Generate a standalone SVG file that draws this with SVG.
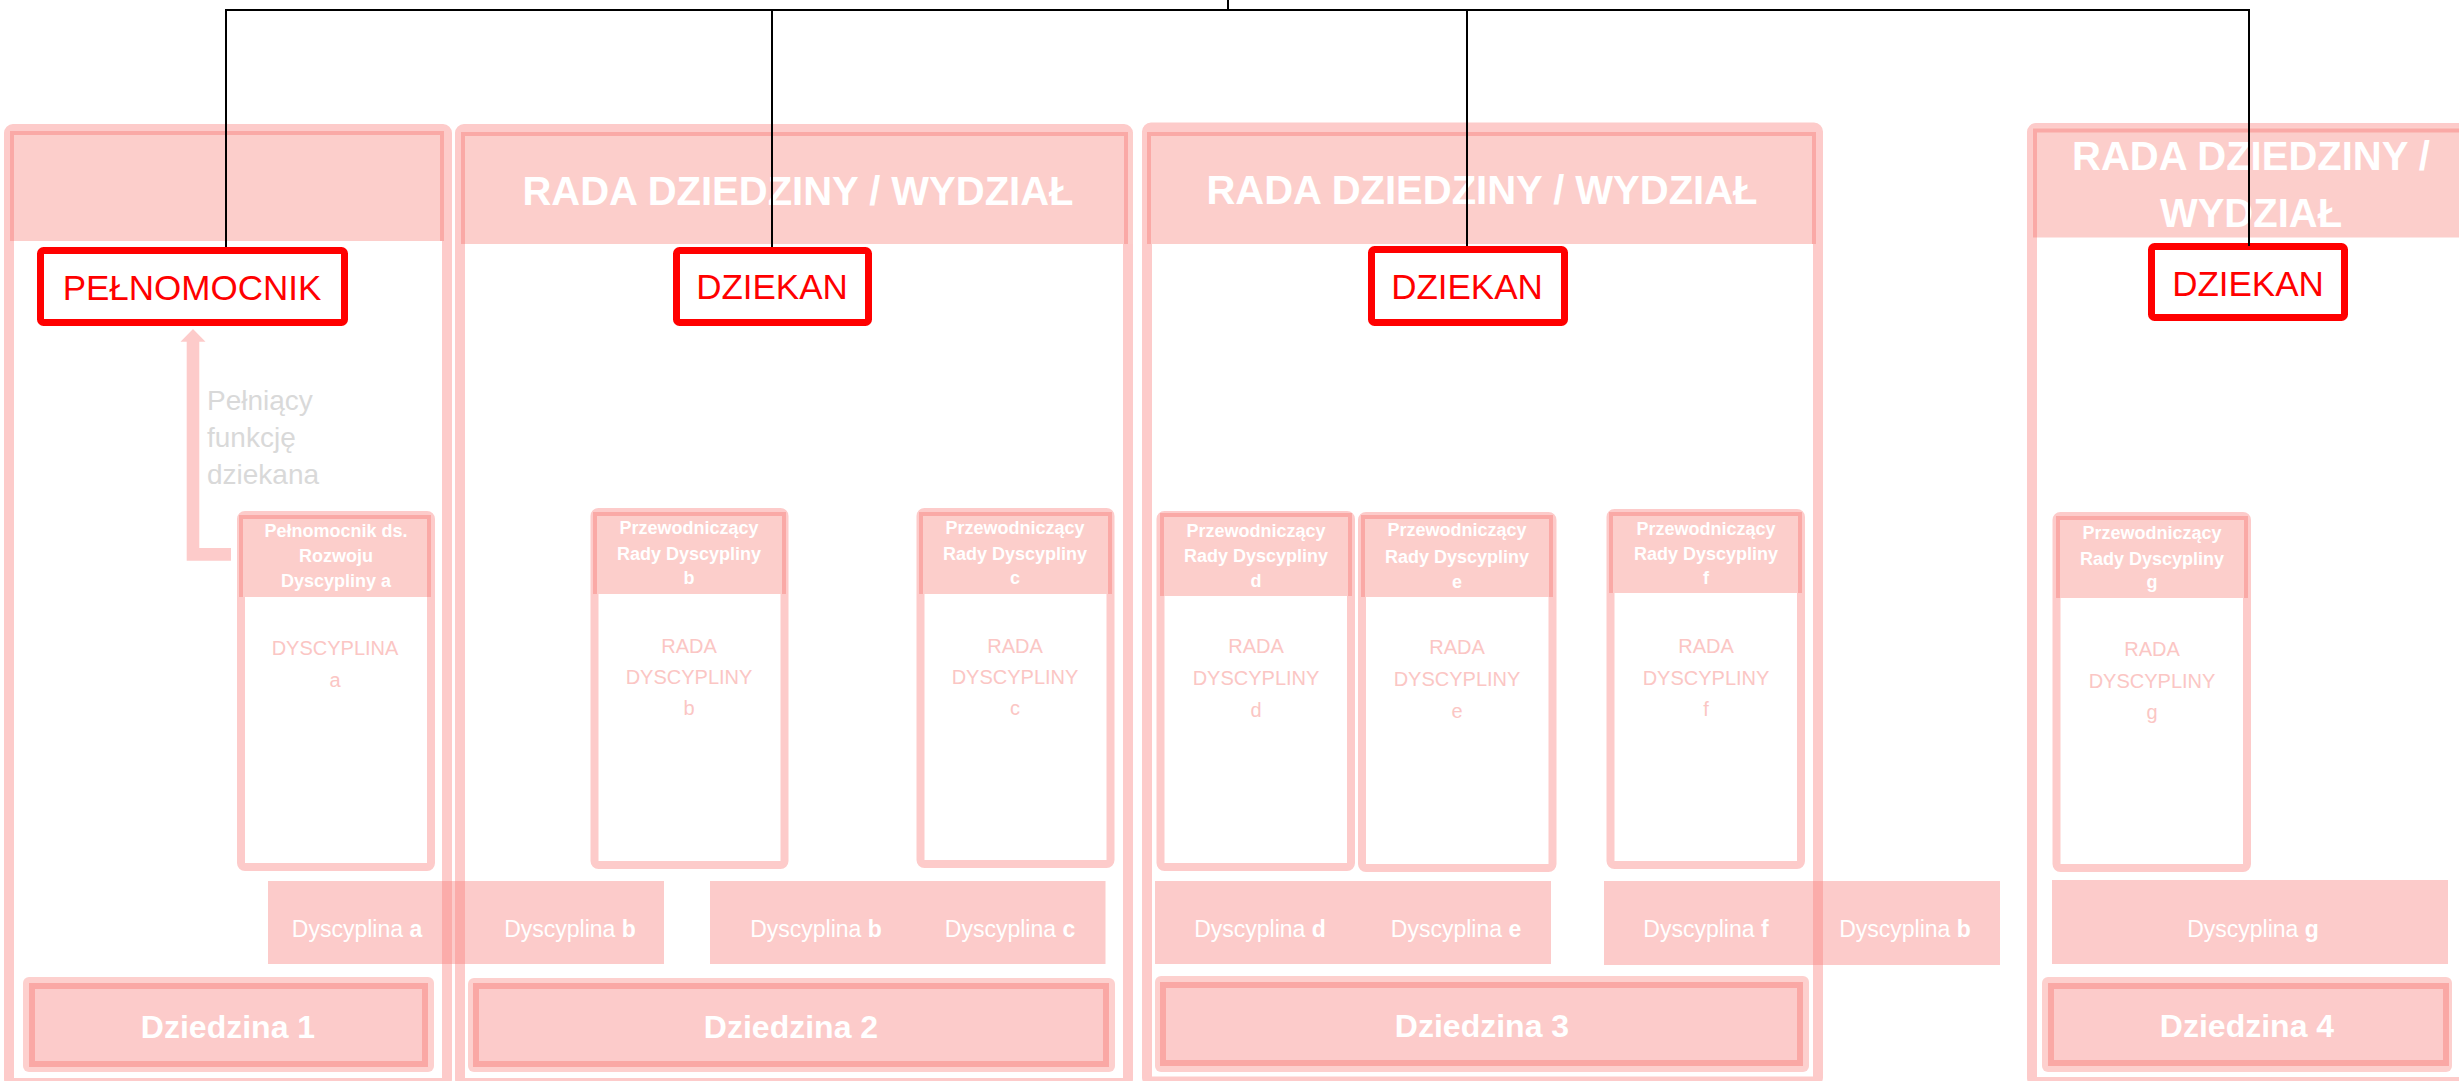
<svg xmlns="http://www.w3.org/2000/svg" width="2459" height="1081" viewBox="0 0 2459 1081">
<style>
text{font-family:"Liberation Sans",Arial,sans-serif;}
.colb{fill:#fff;stroke:#FDCBCA;stroke-width:10;}
.head{fill:#FCCECB;}
.dark{fill:none;stroke:#FAA9A6;stroke-width:4;}
.card{fill:#fff;stroke:#FDCBCA;stroke-width:8;}
.redbox{fill:#fff;stroke:#FF0000;stroke-width:7;}
.red-t{font-size:35px;fill:#FF0000;text-anchor:middle;}
.col-t{font-size:40px;font-weight:bold;fill:#fff;text-anchor:middle;}
.card-h{font-size:18px;font-weight:bold;fill:#fff;text-anchor:middle;}
.card-b{font-size:20px;fill:#FBC6C4;text-anchor:middle;}
.bar{fill:#F87D7A;fill-opacity:0.4;}
.bar-t{font-size:23px;fill:#fff;text-anchor:middle;}
.dzo{fill:#FDD0CE;}
.dzi{fill:#FCCBCA;stroke:#FAA8A5;stroke-width:6;}
.dz-t{font-size:32px;font-weight:bold;fill:#fff;text-anchor:middle;}
.gray-t{font-size:28px;fill:#D9D9D9;}
.conn{fill:none;stroke:#000;stroke-width:2;}
.arrow{fill:#FDCBCA;}
</style>

<!-- Columns -->
<g id="col1">
  <rect class="colb" x="9" y="129" width="438" height="954" rx="4"/>
  <rect class="head" x="10" y="131" width="434" height="110"/>
  <path class="dark" d="M12,241 V133 H442 V241"/>
</g>
<g id="col2">
  <rect class="colb" x="460" y="129" width="668" height="954" rx="4"/>
  <rect class="head" x="461" y="132" width="672" height="112"/>
  <path class="dark" d="M463,244 V134 H1126 V244"/>
  <text class="col-t" x="798" y="205">RADA DZIEDZINY / WYDZIAŁ</text>
</g>
<g id="col3">
  <rect class="colb" x="1147" y="127.5" width="671" height="954" rx="4"/>
  <rect class="head" x="1147" y="132" width="668" height="112"/>
  <path class="dark" d="M1149,244 V134 H1814 V244"/>
  <text class="col-t" x="1482" y="204">RADA DZIEDZINY / WYDZIAŁ</text>
</g>
<g id="col4">
  <rect class="colb" x="2032" y="128" width="500" height="954" rx="4"/>
  <rect class="head" x="2032" y="127" width="440" height="110.5"/>
  <path class="dark" d="M2035,237.5 V130.5 H2470"/>
  <text class="col-t" x="2251" y="170">RADA DZIEDZINY /</text>
  <text class="col-t" x="2251" y="227">WYDZIAŁ</text>
</g>

<!-- Red leader boxes -->
<g id="pelnomocnik">
  <rect class="redbox" x="40.5" y="250.5" width="304" height="72" rx="3"/>
  <text class="red-t" x="192" y="300">PEŁNOMOCNIK</text>
</g>
<g id="dziekan2">
  <rect class="redbox" x="676.5" y="250.5" width="192" height="72" rx="3"/>
  <text class="red-t" x="772" y="299">DZIEKAN</text>
</g>
<g id="dziekan3">
  <rect class="redbox" x="1371.5" y="249.5" width="193" height="73" rx="3"/>
  <text class="red-t" x="1467" y="299">DZIEKAN</text>
</g>
<g id="dziekan4">
  <rect class="redbox" x="2151.5" y="246.5" width="193" height="71" rx="3"/>
  <text class="red-t" x="2248" y="296">DZIEKAN</text>
</g>

<!-- Gray note -->
<g id="note">
  <text class="gray-t" x="207" y="410">Pełniący</text>
  <text class="gray-t" x="207" y="447">funkcję</text>
  <text class="gray-t" x="207" y="484">dziekana</text>
</g>

<!-- Cards -->
<g id="card-a">
  <rect class="card" x="241" y="515" width="190" height="352" rx="4"/>
  <rect class="head" x="238" y="515" width="193" height="82"/>
  <path class="dark" d="M241,597 V517 H429 V597"/>
  <text class="card-h" x="336" y="537">Pełnomocnik ds.</text>
  <text class="card-h" x="336" y="562">Rozwoju</text>
  <text class="card-h" x="336" y="587">Dyscypliny a</text>
  <text class="card-b" x="335" y="655">DYSCYPLINA</text>
  <text class="card-b" x="335" y="687">a</text>
</g>
<g id="card-b">
  <rect class="card" x="594.5" y="512" width="190" height="353" rx="4"/>
  <rect class="head" x="593" y="512" width="193" height="82"/>
  <path class="dark" d="M595,594 V514 H784 V594"/>
  <text class="card-h" x="689" y="534">Przewodniczący</text>
  <text class="card-h" x="689" y="560">Rady Dyscypliny</text>
  <text class="card-h" x="689" y="584">b</text>
  <text class="card-b" x="689" y="653">RADA</text>
  <text class="card-b" x="689" y="684">DYSCYPLINY</text>
  <text class="card-b" x="689" y="715">b</text>
</g>
<g id="card-c">
  <rect class="card" x="920.5" y="512" width="190" height="352" rx="4"/>
  <rect class="head" x="919" y="512" width="193" height="82"/>
  <path class="dark" d="M921,594 V514 H1110 V594"/>
  <text class="card-h" x="1015" y="534">Przewodniczący</text>
  <text class="card-h" x="1015" y="560">Rady Dyscypliny</text>
  <text class="card-h" x="1015" y="584">c</text>
  <text class="card-b" x="1015" y="653">RADA</text>
  <text class="card-b" x="1015" y="684">DYSCYPLINY</text>
  <text class="card-b" x="1015" y="715">c</text>
</g>
<g id="card-d">
  <rect class="card" x="1160.5" y="515" width="190.5" height="352" rx="4"/>
  <rect class="head" x="1160" y="513" width="192" height="83"/>
  <path class="dark" d="M1162,596 V515 H1350 V596"/>
  <text class="card-h" x="1256" y="537">Przewodniczący</text>
  <text class="card-h" x="1256" y="562">Rady Dyscypliny</text>
  <text class="card-h" x="1256" y="587">d</text>
  <text class="card-b" x="1256" y="653">RADA</text>
  <text class="card-b" x="1256" y="685">DYSCYPLINY</text>
  <text class="card-b" x="1256" y="717">d</text>
</g>
<g id="card-e">
  <rect class="card" x="1362" y="516" width="190.5" height="352" rx="4"/>
  <rect class="head" x="1361" y="515" width="192" height="82"/>
  <path class="dark" d="M1363,597 V517 H1551 V597"/>
  <text class="card-h" x="1457" y="536">Przewodniczący</text>
  <text class="card-h" x="1457" y="563">Rady Dyscypliny</text>
  <text class="card-h" x="1457" y="588">e</text>
  <text class="card-b" x="1457" y="654">RADA</text>
  <text class="card-b" x="1457" y="686">DYSCYPLINY</text>
  <text class="card-b" x="1457" y="718">e</text>
</g>
<g id="card-f">
  <rect class="card" x="1610.5" y="513" width="190.5" height="352" rx="4"/>
  <rect class="head" x="1609" y="512" width="193" height="81"/>
  <path class="dark" d="M1611,593 V514 H1800 V593"/>
  <text class="card-h" x="1706" y="535">Przewodniczący</text>
  <text class="card-h" x="1706" y="560">Rady Dyscypliny</text>
  <text class="card-h" x="1706" y="584">f</text>
  <text class="card-b" x="1706" y="653">RADA</text>
  <text class="card-b" x="1706" y="685">DYSCYPLINY</text>
  <text class="card-b" x="1706" y="716">f</text>
</g>
<g id="card-g">
  <rect class="card" x="2056.5" y="516" width="190.5" height="352" rx="4"/>
  <rect class="head" x="2056" y="516" width="192" height="82"/>
  <path class="dark" d="M2058,598 V518 H2246 V598"/>
  <text class="card-h" x="2152" y="539">Przewodniczący</text>
  <text class="card-h" x="2152" y="565">Rady Dyscypliny</text>
  <text class="card-h" x="2152" y="588">g</text>
  <text class="card-b" x="2152" y="656">RADA</text>
  <text class="card-b" x="2152" y="688">DYSCYPLINY</text>
  <text class="card-b" x="2152" y="719">g</text>
</g>

<!-- Discipline bars -->
<g id="bar1">
  <rect class="bar" x="268" y="881" width="396" height="83"/>
  <text class="bar-t" x="357" y="937">Dyscyplina <tspan font-weight="bold">a</tspan></text>
  <text class="bar-t" x="570" y="937">Dyscyplina <tspan font-weight="bold">b</tspan></text>
</g>
<g id="bar2">
  <rect class="bar" x="710" y="881" width="395.5" height="83"/>
  <text class="bar-t" x="816" y="937">Dyscyplina <tspan font-weight="bold">b</tspan></text>
  <text class="bar-t" x="1010" y="937">Dyscyplina <tspan font-weight="bold">c</tspan></text>
</g>
<g id="bar3">
  <rect class="bar" x="1155" y="881" width="396" height="83"/>
  <text class="bar-t" x="1260" y="937">Dyscyplina <tspan font-weight="bold">d</tspan></text>
  <text class="bar-t" x="1456" y="937">Dyscyplina <tspan font-weight="bold">e</tspan></text>
</g>
<g id="bar4">
  <rect class="bar" x="1604" y="881" width="396" height="84"/>
  <text class="bar-t" x="1706" y="937">Dyscyplina <tspan font-weight="bold">f</tspan></text>
  <text class="bar-t" x="1905" y="937">Dyscyplina <tspan font-weight="bold">b</tspan></text>
</g>
<g id="bar5">
  <rect class="bar" x="2052" y="880" width="396" height="84"/>
  <text class="bar-t" x="2253" y="937">Dyscyplina <tspan font-weight="bold">g</tspan></text>
</g>

<!-- Domains -->
<g id="dziedzina1">
  <rect class="dzo" x="23" y="977" width="411" height="95" rx="6"/>
  <rect class="dzi" x="32" y="986" width="393" height="78"/>
  <text class="dz-t" x="228" y="1038">Dziedzina 1</text>
</g>
<g id="dziedzina2">
  <rect class="dzo" x="468" y="978" width="647" height="94" rx="6"/>
  <rect class="dzi" x="476" y="986" width="630" height="78"/>
  <text class="dz-t" x="791" y="1038">Dziedzina 2</text>
</g>
<g id="dziedzina3">
  <rect class="dzo" x="1155" y="976" width="654" height="96" rx="6"/>
  <rect class="dzi" x="1163" y="985" width="637" height="78"/>
  <text class="dz-t" x="1482" y="1037">Dziedzina 3</text>
</g>
<g id="dziedzina4">
  <rect class="dzo" x="2042" y="977" width="410" height="95" rx="6"/>
  <rect class="dzi" x="2051" y="986" width="395" height="77"/>
  <text class="dz-t" x="2247" y="1037">Dziedzina 4</text>
</g>

<!-- Connectors -->
<g id="connectors">
  <polygon class="arrow" points="231,548 199.3,548 199.3,341.7 205.5,341.7 193,329 180.5,341.7 186.7,341.7 186.7,560.7 231,560.7"/>
  <path class="conn" d="M1228,0 V10"/>
  <path class="conn" d="M226,247 V10 H2249 V246"/>
  <path class="conn" d="M772,10 V247"/>
  <path class="conn" d="M1467,10 V246"/>
</g>
</svg>
